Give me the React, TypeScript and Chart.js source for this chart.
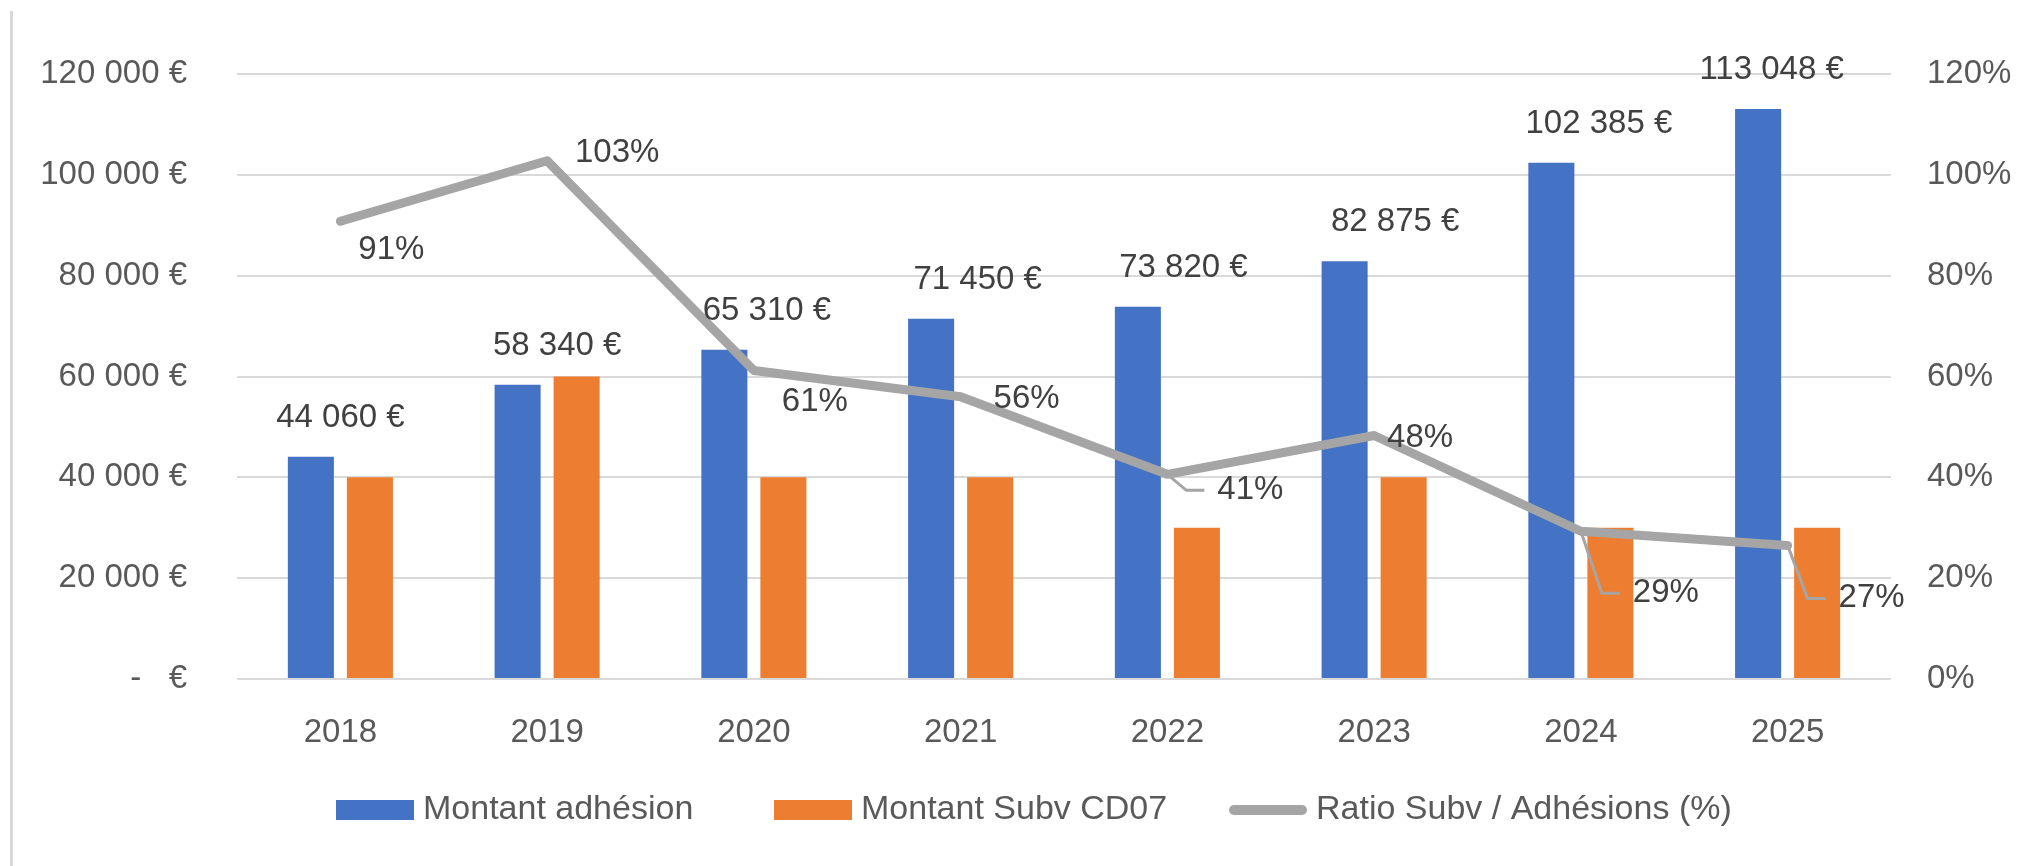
import React, { useEffect, useRef } from "react";
import { Chart, registerables } from "chart.js";

Chart.register(...registerables);

// ---- data ----
const categories = ["2018", "2019", "2020", "2021", "2022", "2023", "2024", "2025"];
const adhesions = [44060, 58340, 65310, 71450, 73820, 82875, 102385, 113048];
const subventions = [40000, 60000, 40000, 40000, 30000, 40000, 30000, 30000];
const ratios = [0.908, 1.028, 0.612, 0.56, 0.406, 0.483, 0.293, 0.265];
const leftTicks = [0, 20000, 40000, 60000, 80000, 100000, 120000];
const rightTicks = [0, 0.2, 0.4, 0.6, 0.8, 1.0, 1.2];
const seriesNames = ["Montant adhésion", "Montant Subv CD07", "Ratio Subv / Adhésions (%)"];

// ---- label placement (pixel offsets, styling only) ----
const barLabelDx = [0, 10, 13, 17, 16, 21, 18, -16];
const ratioLabelDx = [51, 70, 61, 66, 83, 46, 85, 84];
const ratioLabelDy = [29, -8, 31, 2, 16, 2, 62, 53];
const ratioLeader = [false, false, false, false, true, false, true, true];
const legendItemX = [336, 774, 1229];

const FONT = '"Liberation Sans", Arial, sans-serif';
const FS = 33;
const LEGEND_FS = 34;
const BLUE = "#4472C4";
const ORANGE = "#ED7D31";
const GREY = "#A5A5A5";
const AXIS_TXT = "#595959";
const LABEL_TXT = "#404040";
const GRID = "#D9D9D9";

const fmtEuro = (v: number) =>
  v === 0
    ? "-   €"
    : Math.round(v).toString().replace(/\B(?=(\d{3})+(?!\d))/g, " ") + " €";
const fmtPct = (v: number) => Math.round(v * 100) + "%";

const decorPlugin = {
  id: "decor",
  beforeDraw(chart: any) {
    const ctx = chart.ctx;
    ctx.save();
    ctx.fillStyle = "#ffffff";
    ctx.fillRect(0, 0, chart.width, chart.height);
    ctx.fillStyle = GRID;
    ctx.fillRect(10, 11, 3, chart.height - 11);
    ctx.restore();
  },
  afterDatasetsDraw(chart: any) {
    const ctx = chart.ctx;
    const xs = chart.scales.x;
    ctx.save();
    ctx.font = `${FS}px ${FONT}`;
    ctx.fillStyle = LABEL_TXT;
    ctx.textAlign = "center";
    ctx.textBaseline = "middle";
    const barMeta = chart.getDatasetMeta(0);
    barMeta.data.forEach((bar: any, i: number) => {
      const cx = xs.getPixelForValue(i) + barLabelDx[i];
      ctx.fillText(fmtEuro(adhesions[i]), cx, bar.y - 39);
    });
    const lineMeta = chart.getDatasetMeta(2);
    lineMeta.data.forEach((pt: any, i: number) => {
      const txt = fmtPct(ratios[i]);
      const cx = pt.x + ratioLabelDx[i];
      const cy = pt.y + ratioLabelDy[i];
      if (ratioLeader[i]) {
        const w = ctx.measureText(txt).width;
        const left = cx - w / 2;
        ctx.save();
        ctx.strokeStyle = GREY;
        ctx.lineWidth = 3;
        ctx.beginPath();
        ctx.moveTo(pt.x, pt.y);
        ctx.lineTo(left - 31, cy);
        ctx.lineTo(left - 13, cy);
        ctx.stroke();
        ctx.restore();
      }
      ctx.fillText(txt, cx, cy);
    });
    ctx.restore();
  },
  afterDraw(chart: any) {
    const ctx = chart.ctx;
    ctx.save();
    ctx.font = `${LEGEND_FS}px ${FONT}`;
    ctx.textBaseline = "middle";
    ctx.textAlign = "left";
    const y = 810;
    const colors = [BLUE, ORANGE, GREY];
    seriesNames.forEach((name, i) => {
      const x = legendItemX[i];
      if (i < 2) {
        ctx.fillStyle = colors[i];
        ctx.fillRect(x, y - 10, 78, 20);
      } else {
        ctx.strokeStyle = GREY;
        ctx.lineWidth = 10;
        ctx.lineCap = "round";
        ctx.beginPath();
        ctx.moveTo(x + 5, y);
        ctx.lineTo(x + 73, y);
        ctx.stroke();
      }
      ctx.fillStyle = AXIS_TXT;
      ctx.fillText(name, x + 87, y);
    });
    ctx.restore();
  },
};

export default function App() {
  const ref = useRef<HTMLCanvasElement | null>(null);
  useEffect(() => {
    if (!ref.current) return;
    const chart = new Chart(ref.current, {
      type: "bar",
      data: {
        labels: categories,
        datasets: [
          {
            label: seriesNames[0],
            data: adhesions,
            backgroundColor: BLUE,
            yAxisID: "y",
            order: 1,
            categoryPercentage: 0.571,
            barPercentage: 0.78,
          },
          {
            label: seriesNames[1],
            data: subventions,
            backgroundColor: ORANGE,
            yAxisID: "y",
            order: 1,
            categoryPercentage: 0.571,
            barPercentage: 0.78,
          },
          {
            type: "line",
            label: seriesNames[2],
            data: ratios,
            borderColor: GREY,
            backgroundColor: GREY,
            borderWidth: 9,
            pointRadius: 0,
            tension: 0,
            borderJoinStyle: "round",
            borderCapStyle: "round",
            yAxisID: "y1",
            order: 0,
          } as any,
        ],
      },
      options: {
        responsive: false,
        animation: false,
        layout: { padding: { top: 74, left: 0, right: 0, bottom: 0 } },
        plugins: {
          legend: { display: false },
          tooltip: { enabled: false },
          title: { display: false },
        },
        scales: {
          x: {
            grid: { display: false, drawTicks: false },
            border: { display: false },
            ticks: {
              color: AXIS_TXT,
              font: { family: FONT, size: FS },
              padding: 34,
            },
            afterFit: (s: any) => {
              s.height = 187;
            },
          },
          y: {
            position: "left",
            min: 0,
            max: 120000,
            afterBuildTicks: (s: any) => {
              s.ticks = leftTicks.map((v) => ({ value: v }));
            },
            grid: { color: GRID, lineWidth: 2, drawTicks: false },
            border: { display: false },
            ticks: {
              color: AXIS_TXT,
              font: { family: FONT, size: FS },
              padding: 50,
              callback: (v: any) => fmtEuro(Number(v)),
            },
            afterFit: (s: any) => {
              s.width = 237;
            },
          },
          y1: {
            position: "right",
            min: 0,
            max: 1.2,
            afterBuildTicks: (s: any) => {
              s.ticks = rightTicks.map((v) => ({ value: v }));
            },
            grid: { display: false, drawTicks: false },
            border: { display: false },
            ticks: {
              color: AXIS_TXT,
              font: { family: FONT, size: FS },
              padding: 36,
              callback: (v: any) => fmtPct(Number(v)),
            },
            afterFit: (s: any) => {
              s.width = 138;
            },
          },
        },
      } as any,
      plugins: [decorPlugin],
    });
    return () => chart.destroy();
  }, []);
  return (
    <div style={{ position: "absolute", left: 0, top: 0, width: 2029, height: 866 }}>
      <canvas ref={ref} width={2029} height={866} style={{ display: "block" }} />
    </div>
  );
}
